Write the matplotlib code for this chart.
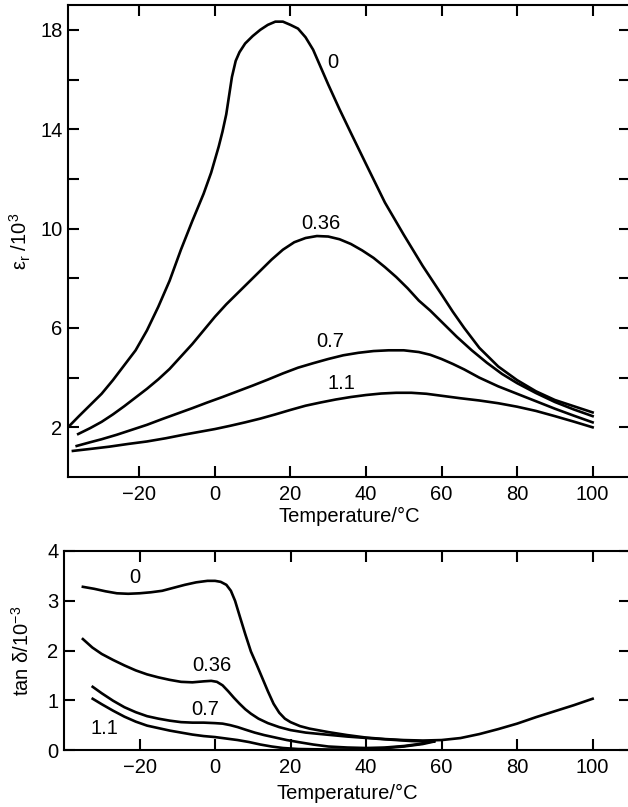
import matplotlib
matplotlib.use("Agg")
import matplotlib.pyplot as plt

plt.rcParams['font.family'] = ['Liberation Sans', 'DejaVu Sans']
plt.rcParams['mathtext.fontset'] = 'custom'
plt.rcParams['mathtext.rm'] = 'Liberation Sans'
plt.rcParams['mathtext.it'] = 'Liberation Sans:italic'

# permittivity (eps_r / 10^3) vs temperature, for each composition
t_e0 = [-38.9, -36, -33, -30, -27, -24, -21, -18, -15, -12, -9, -6, -3, -1, 1, 2, 3,
        4.5, 5.5, 6.5, 8, 10, 12, 14, 16, 18, 20, 22, 24, 26, 28, 30, 33, 36, 40, 45,
        50, 55, 60, 63, 66, 70, 75, 80, 85, 90, 95, 100]
e0 = [2.0, 2.45, 2.9, 3.35, 3.9, 4.5, 5.1, 5.9, 6.85, 7.9, 9.15, 10.3, 11.4, 12.25,
      13.3, 13.9, 14.6, 16.1, 16.75, 17.1, 17.45, 17.75, 18.0, 18.2, 18.33, 18.33,
      18.2, 18.05, 17.7, 17.2, 16.5, 15.8, 14.8, 13.85, 12.6, 11.05, 9.75, 8.5, 7.35,
      6.65, 6.0, 5.2, 4.45, 3.9, 3.45, 3.1, 2.85, 2.6]

t_e36 = [-36.2, -33, -30, -27, -24, -21, -18, -15, -12, -9, -6, -3, 0, 3, 6, 9, 12,
         15, 18, 21, 24, 27, 30, 33, 36, 39, 42, 45, 48, 51, 54, 57, 60, 64, 68, 72,
         76, 80, 85, 90, 95, 100]
e36 = [1.73, 1.97, 2.22, 2.52, 2.85, 3.2, 3.55, 3.93, 4.35, 4.85, 5.35, 5.9, 6.45,
       6.95, 7.4, 7.85, 8.3, 8.75, 9.15, 9.45, 9.62, 9.7, 9.68, 9.57, 9.38, 9.12,
       8.82, 8.45, 8.05, 7.6, 7.1, 6.7, 6.25, 5.65, 5.1, 4.6, 4.15, 3.78, 3.38, 3.02,
       2.72, 2.45]

t_e07 = [-36.6, -33, -30, -26, -22, -18, -14, -10, -6, -2, 2, 6, 10, 14, 18, 22, 26,
         30, 34, 38, 42, 46, 50, 54, 57, 60, 63, 66, 70, 75, 80, 85, 90, 95, 100]
e07 = [1.25, 1.4, 1.52, 1.7, 1.9, 2.1, 2.33, 2.55, 2.77, 3.0, 3.22, 3.45, 3.68, 3.92,
       4.17, 4.4, 4.58, 4.75, 4.9, 5.0, 5.07, 5.1, 5.1, 5.03, 4.92, 4.75, 4.55, 4.33,
       4.0, 3.65, 3.35, 3.05, 2.75, 2.47, 2.2]

t_e11 = [-37.6, -33, -28, -23, -18, -13, -8, -4, 0, 4, 8, 12, 16, 20, 24, 28, 32, 36,
         40, 44, 48, 52, 56, 60, 65, 70, 75, 80, 85, 90, 95, 100]
e11 = [1.05, 1.13, 1.22, 1.33, 1.43, 1.56, 1.71, 1.82, 1.93, 2.06, 2.2, 2.35, 2.52,
       2.7, 2.87, 3.0, 3.12, 3.22, 3.3, 3.36, 3.39, 3.39, 3.35, 3.27, 3.17, 3.08,
       2.97, 2.83, 2.66, 2.45, 2.23, 2.0]

# loss tangent (tan delta / 10^-3) vs temperature
t_d0 = [-35, -32, -29, -26, -23, -20, -17, -14, -11, -8, -5, -2, 0, 1.5, 3, 4.2, 5.3,
        6.5, 8, 9.5, 11, 12.5, 14, 15.5, 17, 18.5, 20, 22.5, 25, 30, 35, 40, 45, 50,
        55, 60, 65, 70, 75, 80, 85, 90, 95, 100]
d0 = [3.28, 3.24, 3.19, 3.15, 3.14, 3.15, 3.17, 3.2, 3.26, 3.32, 3.37, 3.40, 3.40,
      3.38, 3.32, 3.2, 3.0, 2.7, 2.33, 1.98, 1.72, 1.45, 1.18, 0.93, 0.75, 0.63, 0.56,
      0.48, 0.43, 0.36, 0.3, 0.25, 0.22, 0.2, 0.19, 0.2, 0.24, 0.32, 0.42, 0.53, 0.66,
      0.78, 0.9, 1.03]

t_d36 = [-35, -32.5, -30, -27, -24, -21, -18, -15, -12, -9, -6, -3, -1, 0.5, 2, 3.5,
         5, 6.5, 8, 9.5, 11.5, 14, 17, 20, 24, 28, 35, 44, 52, 58]
d36 = [2.23, 2.06, 1.93, 1.81, 1.7, 1.6, 1.52, 1.46, 1.41, 1.37, 1.36, 1.38, 1.39,
       1.37, 1.3, 1.18, 1.05, 0.93, 0.82, 0.73, 0.63, 0.54, 0.46, 0.40, 0.35, 0.32,
       0.27, 0.22, 0.18, 0.17]

t_d07 = [-32.4, -30, -27, -24, -21, -18, -15, -12, -9, -6, -3, 0, 2, 4, 6, 8, 10.5,
         13, 16, 19, 22, 26, 30, 35, 40, 45, 50, 54, 58]
d07 = [1.27, 1.14, 0.99, 0.86, 0.76, 0.68, 0.63, 0.59, 0.56, 0.55, 0.55, 0.54, 0.53,
       0.5, 0.46, 0.41, 0.35, 0.3, 0.25, 0.2, 0.16, 0.11, 0.07, 0.05, 0.04, 0.05,
       0.08, 0.12, 0.18]

t_d11 = [-32.4, -30, -27, -24, -21, -18, -15, -12, -9, -6, -3, 0, 3, 6, 9, 12, 15, 18,
         22, 30, 38, 44, 50, 55, 58]
d11 = [1.03, 0.92, 0.79, 0.67, 0.57, 0.49, 0.44, 0.39, 0.35, 0.31, 0.28, 0.26, 0.23,
       0.2, 0.16, 0.11, 0.07, 0.04, 0.02, 0.01, 0.01, 0.03, 0.07, 0.12, 0.17]

labels = ["0", "0.36", "0.7", "1.1"]
top_lab_pos = [(31.3, 16.7), (28.1, 10.2), (30.5, 5.45), (33.4, 3.75)]
bot_lab_pos = [(-21.2, 3.46), (-0.8, 1.69), (-2.6, 0.82), (-29.4, 0.44)]

lw = 1.9
fs = 14.5

fig = plt.figure(figsize=(6.28, 8.07), dpi=100)
ax1 = fig.add_axes([68/628, 330/807, 562/628, 472/807])
ax2 = fig.add_axes([64/628, 57/807, 566/628, 199/807])

for t, v in [(t_e0, e0), (t_e36, e36), (t_e07, e07), (t_e11, e11)]:
    ax1.plot(t, v, color='black', linewidth=lw)
for t, v in [(t_d0, d0), (t_d36, d36), (t_d07, d07), (t_d11, d11)]:
    ax2.plot(t, v, color='black', linewidth=lw)

for lab, (x, y) in zip(labels, top_lab_pos):
    ax1.text(x, y, lab, fontsize=fs, ha='center', va='center')
for lab, (x, y) in zip(labels, bot_lab_pos):
    ax2.text(x, y, lab, fontsize=fs, ha='center', va='center')

ax1.set_xlim(-38.9, 109.9)
ax1.set_ylim(0, 19)
ax2.set_xlim(-40, 109.9)
ax2.set_ylim(0, 4)

xt = [-20, 0, 20, 40, 60, 80, 100]
xl = ["\u221220", "0", "20", "40", "60", "80", "100"]
ax1.set_xticks(xt)
ax1.set_xticklabels(xl)
ax2.set_xticks(xt)
ax2.set_xticklabels(xl)
yt = [2, 4, 6, 8, 10, 12, 14, 16, 18]
ax1.set_yticks(yt)
ax1.set_yticklabels([str(v) if v % 4 == 2 else "" for v in yt])
ax2.set_yticks([0, 1, 2, 3, 4])

for ax in (ax1, ax2):
    for s in ax.spines.values():
        s.set_linewidth(1.5)
    ax.tick_params(direction='in', top=True, right=True, length=8, width=1.5,
                   labelsize=fs)
    ax.tick_params(axis='y', pad=4)
    ax.tick_params(axis='x', pad=6)

ax1.set_xlabel("Temperature/\u00b0C", fontsize=fs, labelpad=2)
ax2.set_xlabel("Temperature/\u00b0C", fontsize=fs, labelpad=5)

ax1.set_ylabel("\u03b5$_{\\rm r}$ /10$^3$", fontsize=fs)
ax1.yaxis.set_label_coords(-0.062, 0.5)
ax2.set_ylabel("tan \u03b4/10$^{\u22123}$", fontsize=fs)
ax2.yaxis.set_label_coords(-0.055, 0.5)

fig.savefig("out.png", dpi=100)
